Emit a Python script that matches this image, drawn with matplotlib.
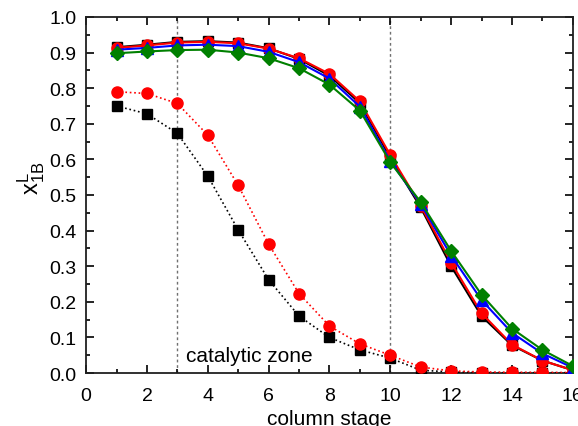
import matplotlib
matplotlib.use("Agg")
import matplotlib.pyplot as plt
from matplotlib.ticker import MultipleLocator, FormatStrFormatter

plt.rcParams['font.family'] = ['Liberation Sans', 'DejaVu Sans']
plt.rcParams['mathtext.fontset'] = 'custom'
plt.rcParams['mathtext.rm'] = 'Liberation Sans'
plt.rcParams['mathtext.it'] = 'Liberation Sans:italic'

# column stages
stage = list(range(1, 17))

# solid curves (full model)
black_solid = [0.915, 0.922, 0.930, 0.932, 0.928, 0.912, 0.882, 0.835, 0.758, 0.605, 0.465, 0.300, 0.160, 0.078, 0.035, 0.008]
red_solid = [0.913, 0.920, 0.928, 0.930, 0.926, 0.911, 0.884, 0.840, 0.763, 0.612, 0.470, 0.310, 0.168, 0.080, 0.035, 0.008]
blue_solid = [0.908, 0.913, 0.920, 0.922, 0.918, 0.902, 0.873, 0.827, 0.748, 0.595, 0.475, 0.330, 0.205, 0.113, 0.055, 0.015]
green_solid = [0.898, 0.903, 0.907, 0.908, 0.900, 0.884, 0.856, 0.810, 0.737, 0.592, 0.480, 0.343, 0.220, 0.125, 0.065, 0.020]

# dotted curves
red_dot = [0.790, 0.785, 0.757, 0.668, 0.527, 0.362, 0.223, 0.132, 0.082, 0.050, 0.017, 0.006, 0.003, 0.002, 0.002, 0.001]
black_dot = [0.750, 0.728, 0.673, 0.553, 0.402, 0.262, 0.160, 0.100, 0.065, 0.042, 0.008, 0.003, 0.001, 0.001, 0.001, 0.001]

zone_edges = [3, 10]

fig = plt.figure(figsize=(5.78, 4.27), dpi=100)
ax = fig.add_axes([0.149, 0.124, 0.842, 0.834])

for x in zone_edges:
    ax.axvline(x, color='#707070', linestyle=(0, (2, 2)), lw=1.0, zorder=1)

ax.plot(stage, black_dot, ':', color='black', marker='s', ms=7, lw=1.2, zorder=3)
ax.plot(stage, red_dot, ':', color='red', marker='o', ms=8, lw=1.2, zorder=3)

ax.plot(stage, black_solid, '-', color='black', marker='s', ms=7, lw=1.5, zorder=3)
ax.plot(stage, red_solid, '-', color='red', marker='o', ms=8, lw=1.5, zorder=3)
ax.plot(stage, blue_solid, '-', color='blue', marker='^', ms=8, lw=1.5, zorder=3)
ax.plot(stage, green_solid, '-', color='green', marker='D', ms=7, lw=1.5, zorder=3)

ax.text(3.3, 0.035, 'catalytic zone', fontsize=15, ha='left', va='baseline')

ax.set_xlim(0, 16)
ax.set_ylim(0, 1.0)
ax.xaxis.set_major_locator(MultipleLocator(2))
ax.xaxis.set_minor_locator(MultipleLocator(1))
ax.yaxis.set_major_locator(MultipleLocator(0.1))
ax.yaxis.set_minor_locator(MultipleLocator(0.05))
ax.yaxis.set_major_formatter(FormatStrFormatter('%.1f'))
ax.tick_params(which='both', direction='in', top=True, right=True, labelsize=14, width=1.2)
ax.tick_params(which='major', length=6)
ax.tick_params(which='minor', length=3)
ax.tick_params(axis='x', which='major', pad=10)
ax.tick_params(axis='y', which='major', pad=7)
for s in ax.spines.values():
    s.set_linewidth(1.3)
    s.set_color('#202020')

ax.set_xlabel('column stage', fontsize=15)
ax.set_ylabel(r'$\mathrm{x}^{\mathrm{L}}_{\mathrm{1B}}$', fontsize=17)
ax.xaxis.set_label_coords(0.5, -0.10)
ax.yaxis.set_label_coords(-0.08, 0.55)

fig.savefig('out.png', dpi=100)
